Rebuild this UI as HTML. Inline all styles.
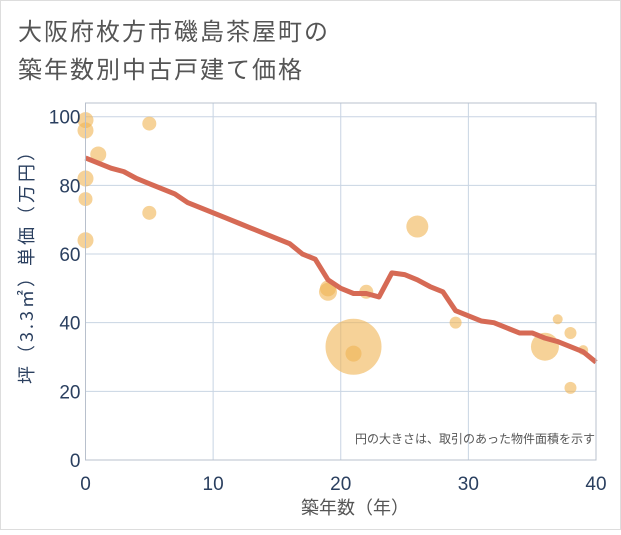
<!DOCTYPE html>
<html><head><meta charset="utf-8"><style>
body{margin:0;background:#fff;}
svg text{font-family:"Liberation Sans","Noto Sans CJK JP",sans-serif;}
</style></head><body>
<svg width="621" height="530" viewBox="0 0 621 530">
<rect x="0.5" y="0.5" width="620" height="529" fill="#fff" stroke="#ddd"/>
<text x="18" y="40" font-size="24" letter-spacing="2" fill="#555">大阪府枚方市磯島茶屋町の</text>
<text x="18" y="78" font-size="24" letter-spacing="2" fill="#555">築年数別中古戸建て価格</text>
<g id="grid"></g>
<g id="bubbles"></g>
<g id="line"></g>
<g id="axes"></g>
<text x="595" y="443" font-size="12" fill="#555" text-anchor="end">円の大きさは、取引のあった物件面積を示す</text>
<text x="355" y="514" font-size="18" fill="#555" text-anchor="middle">築年数（年）</text>
<text transform="translate(33,262) rotate(-90)" font-size="18" letter-spacing="3" fill="#2a3f5f" text-anchor="middle" style="font-family:'Noto Sans CJK JP',sans-serif">坪（3.3㎡）単価（万円）</text>
</svg>
<script>
const xTicks=[0,10,20,30,40];
const yTicks=[0,20,40,60,80,100];
const lineX=[0,1,2,3,4,5,6,7,8,9,10,11,12,13,14,15,16,17,18,19,20,21,22,23,24,25,26,27,28,29,30,31,32,33,34,35,36,37,38,39,40];
const lineY=[88,86.5,85,84,82,80.5,79,77.5,75,73.5,72,70.5,69,67.5,66,64.5,63,60,58.5,52.5,50,48.5,48.5,47.5,54.5,54,52.5,50.5,49,43.5,42,40.5,40,38.5,37,37,35.5,34.5,33,31.5,28.5];
const bubX=[0,0,1,0,0,0,5,5,19,19,21,21,22,26,29,36,37,38,38,39];
const bubY=[99,96,89,82,76,64,98,72,49,50,33,31,49,68,40,33,41,37,21,32];
const bubR=[8,8,8,8,7,8,7,7,9,8,28,8,7,11,6,14,5,6,6,5];
const L=85.5,R=596,T=103,B=460;
const sx=v=>L+(v-0)/40*(R-L);
const sy=v=>B-v/100*(B-116.7);
const NS="http://www.w3.org/2000/svg";
function mk(t,a,p){const e=document.createElementNS(NS,t);for(const k in a)e.setAttribute(k,a[k]);p.appendChild(e);return e;}
const grid=document.getElementById('grid'),axes=document.getElementById('axes');
xTicks.forEach(v=>{
 const l=mk('line',{x1:sx(v),x2:sx(v),y1:T,y2:B,stroke:'#c8d4e3'},grid);
 
 
 const t=mk('text',{x:sx(v),y:B+30,'font-size':19,fill:'#2a3f5f','text-anchor':'middle'},axes);
 t.textContent=v;
 
 
});
yTicks.forEach(v=>{
 const l=mk('line',{x1:L,x2:R,y1:sy(v),y2:sy(v),stroke:'#c8d4e3'},grid);
 
 
 const t=mk('text',{x:L-5,y:sy(v)+7,'font-size':19,fill:'#2a3f5f','text-anchor':'end'},axes);
 t.textContent=v;
 
 
});
const fr=mk('rect',{x:L,y:T,width:R-L,height:B-T,fill:'none',stroke:'#b8c0cc'},axes);


const bg=document.getElementById('bubbles');
bubX.forEach((v,i)=>{
 const c=mk('circle',{cx:sx(v),cy:sy(bubY[i]),r:bubR[i],fill:'#f0b454','fill-opacity':0.6},bg);
 
 
});
const p=mk('polyline',{points:lineX.map((v,i)=>sx(v)+','+sy(lineY[i])).join(' '),fill:'none',stroke:'#d66a55','stroke-width':5,'stroke-linejoin':'round'},document.getElementById('line'));


</script>
</body></html>
